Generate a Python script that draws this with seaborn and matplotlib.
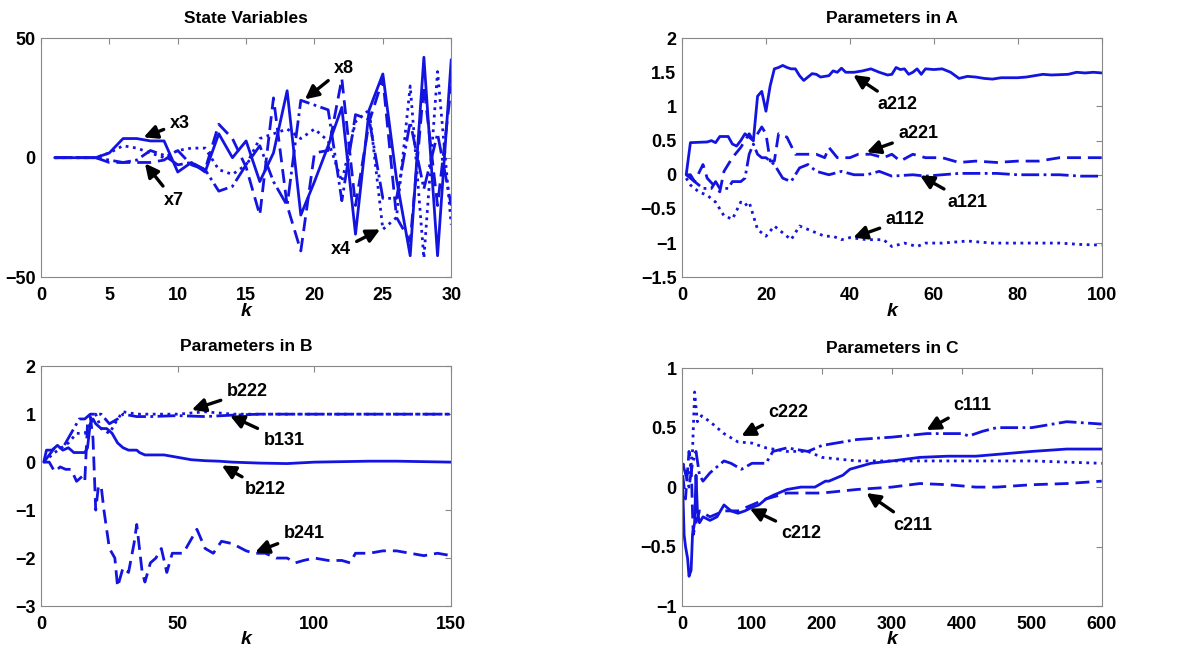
import numpy as np
import pandas as pd
import seaborn as sns
import matplotlib.pyplot as plt

## Four panels: state variables and estimated parameters of A, B, C

# ---- State variables (k = 1..30)
k_x = list(range(1, 31))
x3 = [0, 0, 0, 0, 2, 8, 8, 7, 7, -6, -2, -6, 10, 0, 7, -10, 2, 28, -24, -10,
      5, 21, -32, 20, 35, -9, -41, 42, -41, 41]
x7 = [0, 0, 0, 0, -2, -2, -2, -2, -1, 3, -3, -5, 14, 8, -4, -24, 25, -20, -39, 2,
      3, 33, -20, 15, 33, -25, -35, 30, -20, 30]
x4 = [0, 0, 0, 0, 2, 5, 4, 2, 0, 3, 4, 4, -5, -7, -3, 8, 10, 12, 8, 12,
      7, -10, 15, 20, -30, -25, 30, -42, 36, -28]
x8 = [0, 0, 0, 0, -1, -2, -1, 3, 1, -3, -2, -5, -14, -12, -3, 5, -10, -20, 24, 22,
      20, -18, 18, 16, -17, -17, 15, -13, 10, -20]

# ---- Parameters in A
k_a212 = [1, 2, 6, 7, 8, 9, 11, 12, 13, 14, 15, 16, 17, 18, 19, 20, 21, 22, 23, 24,
          25, 26, 27, 28, 29, 30, 31, 32, 33, 35, 36, 37, 38, 39, 41, 43, 45, 47, 49, 50,
          51, 52, 53, 54, 55, 56, 57, 58, 60, 62, 64, 66, 68, 70, 72, 74, 76, 80, 82, 84,
          86, 88, 92, 94, 96, 98, 100]
a212 = [0.0, 0.47, 0.48, 0.5, 0.47, 0.56, 0.56, 0.45, 0.42, 0.5, 0.6, 0.55, 0.5, 1.15, 1.22, 0.93, 1.3, 1.55, 1.57, 1.6,
        1.57, 1.55, 1.55, 1.45, 1.38, 1.43, 1.48, 1.47, 1.43, 1.45, 1.52, 1.5, 1.56, 1.5, 1.5, 1.52, 1.55, 1.5, 1.46, 1.47,
        1.57, 1.54, 1.55, 1.47, 1.5, 1.55, 1.47, 1.55, 1.54, 1.55, 1.5, 1.41, 1.44, 1.43, 1.41, 1.4, 1.42, 1.42, 1.43, 1.45,
        1.47, 1.46, 1.47, 1.5, 1.49, 1.5, 1.49]
k_a221 = [1, 2, 3, 5, 6, 9, 10, 12, 14, 16, 17, 19, 20, 21, 22, 23, 25, 27, 30, 32,
          34, 35, 37, 40, 42, 45, 48, 50, 52, 55, 58, 62, 66, 70, 75, 80, 85, 90, 95, 100]
a221 = [0, 0, -0.1, 0.15, -0.05, -0.25, 0.05, 0.25, 0.4, 0.6, 0.5, 0.7, 0.6, 0.2, 0.2, 0.6, 0.55, 0.3, 0.3, 0.3,
        0.25, 0.4, 0.25, 0.25, 0.3, 0.3, 0.25, 0.3, 0.2, 0.3, 0.25, 0.25, 0.18, 0.2, 0.18, 0.2, 0.2, 0.25, 0.25, 0.25]
k_a121 = [1, 3, 5, 7, 8, 9, 11, 12, 14, 15, 16, 17, 18, 19, 20, 22, 24, 26, 27, 28,
          30, 32, 35, 38, 41, 44, 47, 50, 55, 58, 62, 66, 70, 75, 80, 85, 90, 95, 100]
a121 = [0, -0.1, -0.2, -0.2, -0.1, -0.2, -0.2, -0.1, -0.1, -0.05, 0.3, 0.45, 0.3, 0.25, 0.25, 0.15, -0.05, -0.1, 0.0, 0.1,
        0.15, 0.05, 0.0, 0.05, 0.0, 0.0, 0.05, -0.02, 0.0, -0.02, 0.0, 0.02, 0.02, 0.02, 0.0, 0.0, 0.0, -0.02, -0.02]
k_a112 = [1, 2, 4, 6, 8, 10, 12, 14, 15, 16, 17, 18, 20, 22, 24, 26, 28, 30, 32, 34,
          36, 38, 40, 44, 48, 50, 53, 56, 58, 62, 68, 74, 80, 85, 90, 95, 100]
a112 = [-0.05, -0.15, -0.25, -0.3, -0.4, -0.6, -0.65, -0.4, -0.45, -0.4, -0.6, -0.8, -0.9, -0.75, -0.85, -0.95, -0.75, -0.8, -0.85, -0.9,
        -0.9, -0.95, -0.92, -0.95, -0.95, -1.05, -1.0, -1.05, -1.0, -1.0, -0.97, -1.0, -1.0, -1.0, -1.0, -1.02, -1.03]

# ---- Parameters in B
k_b212 = [1, 2, 4, 6, 8, 10, 12, 14, 16, 17, 18, 19, 20, 22, 24, 26, 28, 30, 32, 35,
          36, 38, 45, 50, 55, 60, 65, 70, 80, 90, 100, 120, 130, 150]
b212 = [0, 0.25, 0.25, 0.35, 0.25, 0.3, 0.2, 0.2, 0.2, 0.3, 0.8, 0.9, 0.8, 0.7, 0.7, 0.6, 0.4, 0.3, 0.25, 0.25,
        0.2, 0.15, 0.15, 0.1, 0.05, 0.03, 0.02, 0.0, -0.02, -0.03, 0.0, 0.02, 0.02, 0.0]
k_b241 = [1, 3, 5, 7, 9, 11, 13, 15, 16, 17, 18, 19, 20, 21, 22, 23, 25, 27, 28, 30,
          32, 34, 35, 37, 38, 40, 42, 44, 46, 48, 52, 55, 57, 60, 63, 66, 70, 75, 78, 82,
          86, 90, 93, 96, 100, 105, 110, 113, 115, 120, 125, 130, 135, 140, 145, 150]
b241 = [0, 0, -0.2, -0.1, -0.15, -0.15, -0.4, -0.3, -0.4, 0.8, 0.95, 0.5, -1.0, -0.5, -0.5, -1.0, -1.8, -2.0, -2.6, -2.2,
        -2.3, -1.7, -1.3, -2.3, -2.5, -2.1, -2.0, -1.8, -2.3, -1.9, -1.9, -1.6, -1.4, -1.8, -1.9, -1.65, -1.7, -1.85, -1.9, -1.9,
        -2.0, -2.0, -2.1, -2.05, -2.0, -2.05, -2.05, -2.1, -1.9, -1.9, -1.85, -1.85, -1.9, -1.95, -1.9, -1.95]
k_b222 = [1, 5, 10, 13, 16, 18, 20, 22, 25, 28, 30, 35, 40, 50, 60, 70, 80, 100, 150]
b222 = [0, 0.2, 0.4, 0.6, 0.6, 0.8, 1.0, 0.7, 0.6, 0.9, 1.05, 1.0, 1.0, 1.0, 1.05, 1.0, 1.0, 1.0, 1.0]
k_b131 = [1, 5, 8, 10, 12, 14, 16, 18, 20, 22, 25, 28, 30, 35, 40, 50, 60, 70, 80, 100, 150]
b131 = [0, 0.3, 0.3, 0.5, 0.7, 0.9, 0.9, 1.0, 1.0, 1.0, 0.8, 0.9, 1.0, 0.95, 0.95, 0.97, 0.95, 0.98, 1.0, 1.0, 1.0]

# ---- Parameters in C
k_c212 = [1, 3, 5, 8, 10, 13, 15, 18, 20, 22, 25, 30, 40, 50, 60, 70, 80, 90, 100, 110,
          120, 130, 150, 170, 190, 205, 210, 230, 240, 270, 300, 340, 380, 420, 460, 500, 550, 600]
c212 = [0, -0.4, -0.5, -0.6, -0.75, -0.7, -0.4, -0.3, 0.1, -0.2, -0.3, -0.25, -0.28, -0.25, -0.15, -0.2, -0.22, -0.2, -0.17, -0.15,
        -0.1, -0.07, -0.02, 0.0, 0.0, 0.05, 0.05, 0.1, 0.15, 0.2, 0.22, 0.25, 0.26, 0.26, 0.28, 0.3, 0.32, 0.32]
k_c211 = [1, 5, 10, 13, 16, 20, 25, 40, 60, 80, 100, 120, 150, 200, 250, 300, 340, 380, 420, 450, 500, 550, 600]
c211 = [0.1, -0.1, 0.3, 0.2, -0.4, -0.3, -0.2, -0.25, -0.2, -0.2, -0.15, -0.1, -0.05, -0.05, -0.02, 0.0, 0.03, 0.02, 0.0, 0.0,
        0.02, 0.03, 0.05]
k_c222 = [1, 10, 15, 18, 22, 28, 40, 60, 80, 100, 120, 150, 180, 200, 250, 300, 400, 500, 600]
c222 = [0.2, 0.1, 0.3, 0.8, 0.55, 0.6, 0.55, 0.45, 0.38, 0.37, 0.33, 0.3, 0.3, 0.25, 0.22, 0.22, 0.22, 0.22, 0.2]
k_c111 = [1, 10, 15, 20, 25, 30, 40, 60, 70, 85, 100, 120, 130, 150, 180, 200, 250, 300, 350, 400,
          410, 430, 450, 500, 550, 600]
c111 = [0.2, 0.0, 0.2, 0.3, 0.1, 0.05, 0.12, 0.22, 0.2, 0.15, 0.2, 0.2, 0.3, 0.33, 0.3, 0.35, 0.4, 0.42, 0.45, 0.45,
        0.43, 0.47, 0.5, 0.5, 0.55, 0.53]

# ---- styling
sns.set_style("white")
plt.rcParams['font.family'] = ['Liberation Sans', 'DejaVu Sans']
plt.rcParams['font.weight'] = 'bold'
plt.rcParams['axes.titleweight'] = 'bold'
plt.rcParams['axes.labelweight'] = 'bold'
plt.rcParams['text.color'] = 'black'
plt.rcParams['axes.labelcolor'] = 'black'
plt.rcParams['xtick.direction'] = 'in'
plt.rcParams['ytick.direction'] = 'in'

blue = '#1414e0'
lw = 2.0

fig = plt.figure(figsize=(11.89, 6.57), dpi=100)
ax1 = fig.add_axes([0.0345, 0.578, 0.345, 0.364])
ax2 = fig.add_axes([0.5736, 0.578, 0.353, 0.364])
ax3 = fig.add_axes([0.0345, 0.0776, 0.345, 0.365])
ax4 = fig.add_axes([0.5736, 0.0776, 0.353, 0.362])


def draw(ax, k, v, ls):
    sns.lineplot(x=k, y=v, ax=ax, color=blue, linewidth=lw, linestyle=ls, estimator=None, sort=False)
    if ls == '--':
        ax.lines[-1].set_dashes([5, 2.5])


def tag(ax, text, head, pos):
    ax.annotate(text, xy=head, xytext=pos, fontsize=13, fontweight='bold', ha='left', va='center', color='black',
                arrowprops=dict(arrowstyle='-|>', color='black', lw=2.4, mutation_scale=20, shrinkA=2, shrinkB=0))


def frame(ax, xlim, ylim, xt, yt, title):
    ax.set_xlim(*xlim)
    ax.set_ylim(*ylim)
    ax.set_xticks(xt)
    ax.set_yticks(yt)
    ax.set_xticklabels([f"{t:g}" for t in xt])
    ax.set_yticklabels([f"{t:g}".replace('-', '\u2212') for t in yt])
    ax.tick_params(labelsize=13, length=4, color='#888888', labelcolor='black', top=True, right=True)
    ax.tick_params(axis='x', pad=7)
    ax.tick_params(axis='y', pad=4)
    for s in ax.spines.values():
        s.set_color('#888888')
        s.set_linewidth(0.8)
    ax.set_title(title, fontsize=12.5, fontweight='bold', pad=11, color='black')
    ax.set_xlabel('k', fontsize=14, fontstyle='italic', fontweight='bold', labelpad=-1)
    ax.set_ylabel('')


# State variables
draw(ax1, k_x, x4, ':')
draw(ax1, k_x, x8, '-.')
draw(ax1, k_x, x7, '--')
draw(ax1, k_x, x3, '-')
frame(ax1, (0, 30), (-50, 50), [0, 5, 10, 15, 20, 25, 30], [-50, 0, 50], 'State Variables')
tag(ax1, 'x3', (7.5, 8.5), (9.4, 14.4))
tag(ax1, 'x7', (7.6, -2.4), (9.0, -17.7))
tag(ax1, 'x8', (19.3, 24.4), (21.4, 37.4))
tag(ax1, 'x4', (24.8, -30), (21.2, -38.4))

# Parameters in A
draw(ax2, k_a112, a112, ':')
draw(ax2, k_a121, a121, '-.')
draw(ax2, k_a221, a221, '--')
draw(ax2, k_a212, a212, '-')
frame(ax2, (0, 100), (-1.5, 2), [0, 20, 40, 60, 80, 100], [-1.5, -1, -0.5, 0, 0.5, 1, 1.5, 2], 'Parameters in A')
tag(ax2, 'a212', (40.8, 1.46), (46.5, 1.03))
tag(ax2, 'a221', (44, 0.33), (51.5, 0.6))
tag(ax2, 'a121', (56.7, -0.01), (63.2, -0.4))
tag(ax2, 'a112', (40.8, -0.92), (48.5, -0.65))

# Parameters in B
draw(ax3, k_b222, b222, ':')
draw(ax3, k_b131, b131, '-.')
draw(ax3, k_b241, b241, '--')
draw(ax3, k_b212, b212, '-')
frame(ax3, (0, 150), (-3, 2), [0, 50, 100, 150], [-3, -2, -1, 0, 1, 2], 'Parameters in B')
tag(ax3, 'b222', (55.1, 1.09), (67.9, 1.47))
tag(ax3, 'b131', (69.1, 0.97), (81.3, 0.45))
tag(ax3, 'b212', (66.1, -0.07), (74.6, -0.58))
tag(ax3, 'b241', (78.3, -1.88), (88.7, -1.49))

# Parameters in C
draw(ax4, k_c222, c222, ':')
draw(ax4, k_c111, c111, '-.')
draw(ax4, k_c211, c211, '--')
draw(ax4, k_c212, c212, '-')
frame(ax4, (0, 600), (-1, 1), [0, 100, 200, 300, 400, 500, 600], [-1, -0.5, 0, 0.5, 1], 'Parameters in C')
tag(ax4, 'c222', (84.9, 0.43), (123, 0.63))
tag(ax4, 'c111', (349.5, 0.48), (387.7, 0.69))
tag(ax4, 'c212', (96.8, -0.18), (142, -0.39))
tag(ax4, 'c211', (263.7, -0.05), (301.9, -0.32))

fig.savefig('out.png', dpi=100)
